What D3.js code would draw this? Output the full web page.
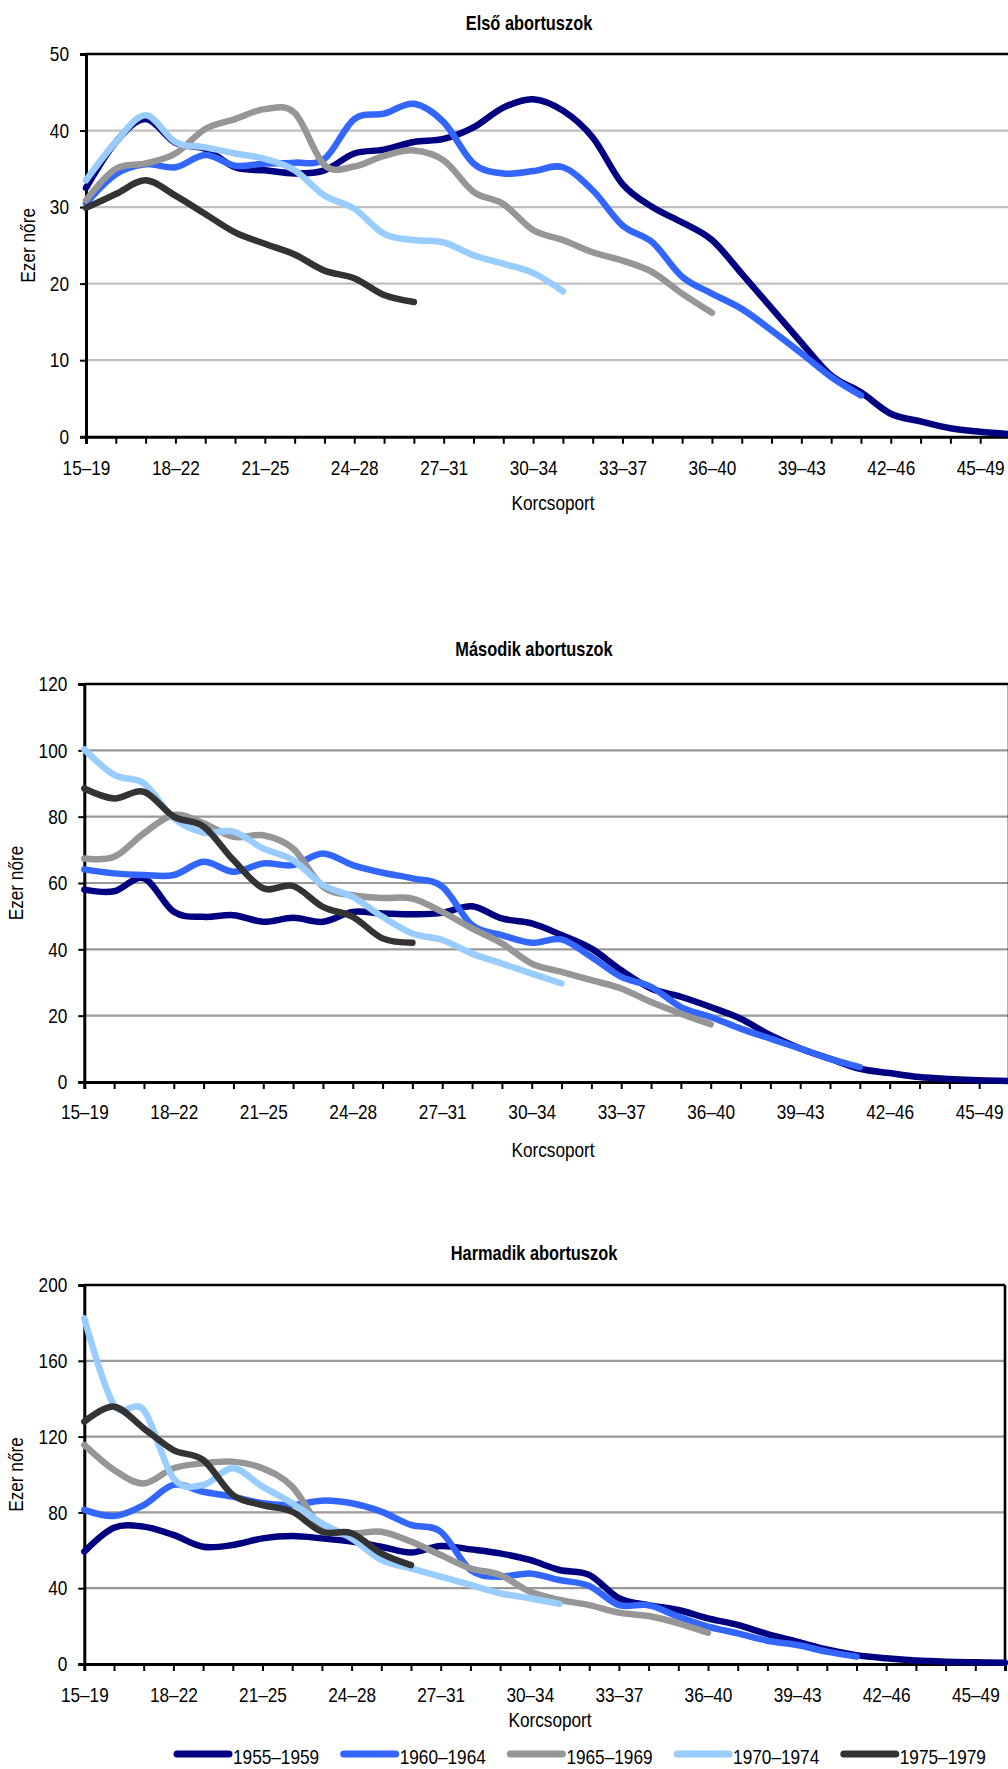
<!DOCTYPE html>
<html>
<head>
<meta charset="utf-8">
<script src="https://cdn.jsdelivr.net/npm/d3@7"></script>
<style>
  body { margin: 0; background: #fff; }
  svg text { font-family: "Liberation Sans", Arial, sans-serif; fill: #000; }
</style>
</head>
<body>
<div id="chart-area"></div>
<script>
// age groups on the category axis
const categories = ["15–19","16–20","17–21","18–22","19–23","20–24","21–25","22–26","23–27","24–28",
  "25–29","26–30","27–31","28–32","29–33","30–34","31–35","32–36","33–37","34–38","35–39","36–40",
  "37–41","38–42","39–43","40–44","41–45","42–46","43–47","44–48","45–49","46–50"];
const tickLabels = ["15–19","18–22","21–25","24–28","27–31","30–34","33–37","36–40","39–43","42–46","45–49"];
const cohorts = ["1955–1959","1960–1964","1965–1969","1970–1974","1975–1979"];

// Első abortuszok
const first1955 = [32.5,38.5,41.5,38.4,37.6,35.2,34.8,34.4,34.8,37.0,37.5,38.5,38.9,40.4,43.0,44.1,42.6,39.1,33.0,30.0,28.0,25.7,21.3,16.8,12.3,8.0,5.8,3.0,2.0,1.1,0.65,0.35];
const first1960 = [30.5,34.3,35.6,35.2,36.8,35.4,35.7,35.8,36.3,41.5,42.2,43.5,41.1,35.7,34.4,34.7,35.2,32.2,27.6,25.4,20.9,18.7,16.7,13.9,10.9,7.8,5.4];
const first1965 = [30.9,35.0,35.7,37.0,40.2,41.5,42.8,42.3,35.5,35.3,36.7,37.4,36.1,32.0,30.4,27.0,25.7,24.1,23.0,21.5,18.7,16.2];
const first1970 = [33.5,38.5,42.0,38.5,37.8,37.0,36.3,34.8,31.5,29.8,26.5,25.7,25.4,23.7,22.6,21.4,19.0];
const first1975 = [29.9,31.7,33.5,31.5,29.1,26.7,25.2,23.8,21.7,20.7,18.5,17.6];

// Második abortuszok
const second1955 = [58.0,57.5,61.4,51.3,49.8,50.3,48.3,49.5,48.3,51.3,50.8,50.6,51.0,53.0,49.3,47.8,44.3,40.2,33.7,28.2,25.7,22.6,19.1,14.1,10.1,7.0,4.0,2.7,1.5,0.9,0.5,0.3];
const second1960 = [64.1,62.9,62.4,62.4,66.4,63.4,65.9,65.4,68.9,65.4,63.1,61.4,58.9,47.3,44.3,42.0,43.0,37.7,31.7,28.7,22.6,19.6,16.1,13.1,10.1,7.0,4.5];
const second1965 = [67.4,67.9,75.0,80.5,78.0,73.9,74.4,70.4,58.9,56.3,55.5,55.3,51.3,46.3,41.8,35.7,33.2,30.7,28.2,24.1,20.6,17.4];
const second1970 = [100.3,92.6,90.0,79.5,75.2,75.5,70.4,66.9,59.4,55.8,49.8,44.8,42.8,38.7,35.7,32.7,29.7];
const second1975 = [88.5,85.5,87.5,80.0,77.0,66.9,58.4,59.1,52.8,49.8,43.3,42.0];

// Harmadik abortuszok
const third1955 = [59.3,71.9,72.5,68.1,61.9,62.8,66.3,67.5,66.3,64.6,61.9,58.8,62.3,60.5,58.4,54.9,49.6,47.0,34.7,31.1,28.5,24.1,20.6,15.8,11.8,7.7,4.7,3.0,1.8,1.2,0.9,0.7];
const third1960 = [81.3,78.1,83.9,94.5,90.9,88.3,84.8,83.9,86.2,84.8,80.4,73.4,69.8,49.6,46.1,47.8,44.3,41.2,31.1,31.1,25.0,19.7,16.2,12.3,10.0,6.5,3.9];
const third1965 = [115.6,102.4,95.3,103.3,105.9,106.8,103.3,93.6,72.0,69.0,69.8,64.6,57.5,50.5,47.0,38.2,33.8,31.1,27.1,25.3,21.5,16.5];
const third1970 = [182.4,136.7,134.0,98.0,94.5,103.3,93.6,84.8,74.2,66.3,54.9,50.5,46.1,41.7,37.3,34.7,31.7];
const third1975 = [127.9,135.8,124.4,112.9,107.7,89.2,83.9,80.4,69.8,69.0,58.4,52.2];

const colors = ["#000080","#3366FF","#969696","#99CCFF","#333333"];

let w = 1008;
let h = 1769;
let narrow = 0.82;  // squeeze Liberation Sans to look like Arial Narrow

let svg = d3.select("#chart-area")
    .append("svg")
    .attr("width", w)
    .attr("height", h);

let panels = [
  { title: "Első abortuszok", series: [first1955, first1960, first1965, first1970, first1975],
    left: 86, right: 1010, top: 54, bottom: 436.7, ymax: 50, ystep: 10, grid: "#c0c0c0",
    titleY: 23, titleX: 529, tickY: 468, xlabY: 503, xlabX: 553, ylabX: 28 },
  { title: "Második abortuszok", series: [second1955, second1960, second1965, second1970, second1975],
    left: 84.3, right: 1009, top: 684, bottom: 1082, ymax: 120, ystep: 20, grid: "#999999",
    titleY: 649, titleX: 534, tickY: 1111.7, xlabY: 1150, xlabX: 553, ylabX: 16 },
  { title: "Harmadik abortuszok", series: [third1955, third1960, third1965, third1970, third1975],
    left: 84.3, right: 1005, top: 1285, bottom: 1664, ymax: 200, ystep: 40, grid: "#999999",
    titleY: 1253, titleX: 534, tickY: 1695, xlabY: 1720, xlabX: 550, ylabX: 16 }
];

let addText = (g, x, y, str, size, extra) => {
    return g.append("text")
        .attr("transform", "translate(" + x + "," + y + ")" + (extra || "") + " scale(" + narrow + ",1)")
        .attr("dy", "0.35em")
        .attr("font-size", size)
        .text(str);
}

let drawPanel = (p) => {
    let g = svg.append("g");

    let xScale = d3.scalePoint()
        .domain(categories)
        .range([p.left, p.right]);

    let yScale = d3.scaleLinear()
        .domain([0, p.ymax])
        .range([p.bottom, p.top]);

    let yTicks = d3.range(0, p.ymax + 1, p.ystep);

    // gridlines
    g.selectAll(".grid")
        .data(yTicks.filter(v => v > 0 && v < p.ymax))
        .enter()
        .append("line")
        .attr("x1", p.left)
        .attr("x2", p.right)
        .attr("y1", d => yScale(d))
        .attr("y2", d => yScale(d))
        .attr("stroke", p.grid)
        .attr("stroke-width", 2.2);

    // frame top / right
    g.append("line")
        .attr("x1", p.left).attr("x2", p.right)
        .attr("y1", p.top).attr("y2", p.top)
        .attr("stroke", "#000").attr("stroke-width", 2.6);
    g.append("line")
        .attr("x1", p.right).attr("x2", p.right)
        .attr("y1", p.top).attr("y2", p.bottom)
        .attr("stroke", "#000").attr("stroke-width", 2.6);

    // y axis
    let yAxis = d3.axisLeft(yScale)
        .tickValues(yTicks)
        .tickSize(6)
        .tickPadding(11);
    let ya = g.append("g")
        .attr("transform", "translate(" + p.left + ",0)")
        .call(yAxis);
    ya.select(".domain").attr("stroke", "#000").attr("stroke-width", 3);
    ya.selectAll(".tick line").attr("stroke", "#000").attr("stroke-width", 2);
    ya.selectAll(".tick text")
        .attr("font-size", 21)
        .attr("x", -17 / narrow)
        .attr("transform", "scale(" + narrow + ",1)");

    // x axis
    let xAxis = d3.axisBottom(xScale)
        .tickSize(7)
        .tickFormat(d => tickLabels.includes(d) ? d : "");
    let xa = g.append("g")
        .attr("transform", "translate(0," + p.bottom + ")")
        .call(xAxis);
    xa.select(".domain").attr("stroke", "#000").attr("stroke-width", 3);
    xa.selectAll(".tick line").attr("stroke", "#000").attr("stroke-width", 2);
    xa.selectAll(".tick text")
        .attr("font-size", 21)
        .attr("y", p.tickY - p.bottom)
        .attr("dy", "0.35em")
        .attr("transform", "scale(" + narrow + ",1)");

    // lines
    let line = d3.line()
        .x((d, i) => xScale(categories[i]))
        .y(d => yScale(d))
        .curve(d3.curveCardinal.tension(0));

    g.selectAll(".series")
        .data(p.series)
        .enter()
        .append("path")
        .attr("d", d => line(d))
        .attr("fill", "none")
        .attr("stroke", (d, i) => colors[i])
        .attr("stroke-width", 6.5)
        .attr("stroke-linecap", "round")
        .attr("stroke-linejoin", "round");

    // texts
    addText(g, p.titleX, p.titleY, p.title, 20)
        .attr("text-anchor", "middle")
        .attr("font-weight", "bold");

    addText(g, p.xlabX, p.xlabY, "Korcsoport", 21)
        .attr("text-anchor", "middle");

    addText(g, p.ylabX, (p.top + p.bottom) / 2, "Ezer nőre", 21, " rotate(-90)")
        .attr("text-anchor", "middle");
}

let drawLegend = () => {
    let lg = svg.append("g")
        .attr("transform", "translate(177,1754)");
    let items = lg.selectAll(".item")
        .data(cohorts)
        .enter()
        .append("g")
        .attr("transform", (d, i) => "translate(" + (i * 166.7) + ",0)");
    items.append("line")
        .attr("x1", 0).attr("x2", 52)
        .attr("y1", 0).attr("y2", 0)
        .attr("stroke", (d, i) => colors[i])
        .attr("stroke-width", 7)
        .attr("stroke-linecap", "round");
    items.append("text")
        .attr("transform", "translate(56,3) scale(" + narrow + ",1)")
        .attr("dy", "0.35em")
        .attr("font-size", 21)
        .text(d => d);
}

panels.forEach(drawPanel);
drawLegend();
</script>
</body>
</html>
